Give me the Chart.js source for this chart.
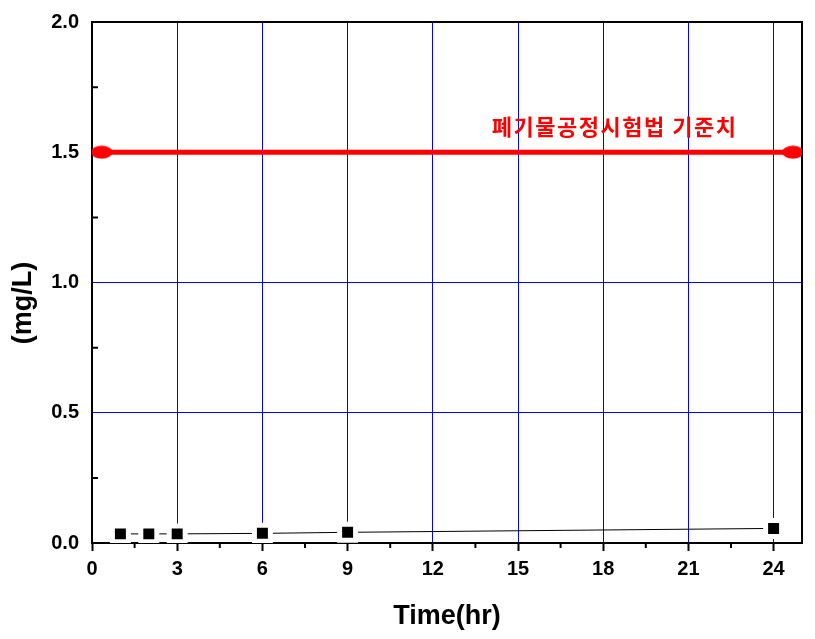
<!DOCTYPE html>
<html>
<head>
<meta charset="utf-8">
<script src="https://cdn.jsdelivr.net/npm/chart.js@4"></script>
<style>
  body { margin: 0; background: #fff; }
</style>
</head>
<body>
<canvas id="chart" width="815" height="639"></canvas>
<script>
// Sample times and measured concentration
const times = [1, 2, 3, 6, 9, 24];
const concentration = [0.035, 0.035, 0.035, 0.037, 0.041, 0.056];

// Regulatory limit line (ends of the red bar)
const limitX = [0.34, 24.68];
const limitY = [1.5, 1.5];
const limitLabel = "폐기물공정시험법 기준치";

// Axis ticks
const xTicks = [0, 3, 6, 9, 12, 15, 18, 21, 24];
const yTicks = [0, 0.5, 1.0, 1.5, 2.0];
const xMinor = [1.5, 4.5, 7.5, 10.5, 13.5, 16.5, 19.5, 22.5];
const yMinor = [0.25, 0.75, 1.25, 1.75];

const xTitle = "Time(hr)";
const yTitle = "(mg/L)";

const tickFont = { family: "Liberation Sans", size: 20, weight: "bold" };
const blue = "#0000ff";

// red ellipse marker for the limit line ends
const ellipse = document.createElement("canvas");
ellipse.width = 22;
ellipse.height = 14;
const ec = ellipse.getContext("2d");
ec.fillStyle = "#ff0000";
ec.beginPath();
ec.ellipse(11, 7, 11, 6.5, 0, 0, Math.PI * 2);
ec.fill();

const framePlugin = {
  id: "frame",
  beforeDatasetsDraw(chart) {
    const { ctx, chartArea: a, scales } = chart;
    ctx.save();
    ctx.strokeStyle = "#000";
    ctx.lineWidth = 2;
    ctx.strokeRect(a.left, a.top, a.right - a.left, a.bottom - a.top);
    // minor ticks
    ctx.beginPath();
    xMinor.forEach((v) => {
      const px = scales.x.getPixelForValue(v);
      ctx.moveTo(px, a.bottom);
      ctx.lineTo(px, a.bottom + 5);
    });
    yMinor.forEach((v) => {
      const py = scales.y.getPixelForValue(v);
      ctx.moveTo(a.left, py);
      ctx.lineTo(a.left + 6, py);
    });
    ctx.stroke();

    // axis titles
    ctx.fillStyle = "#000";
    ctx.font = "bold 27px 'Liberation Sans'";
    ctx.textAlign = "center";
    ctx.textBaseline = "middle";
    ctx.fillText(xTitle, (a.left + a.right) / 2, 617);
    ctx.translate(24, 303);
    ctx.rotate(-Math.PI / 2);
    ctx.fillText(yTitle, 0, 0);
    ctx.restore();
  },
  afterDatasetsDraw(chart) {
    const { ctx, scales } = chart;
    ctx.save();
    ctx.fillStyle = "#ff0000";
    ctx.font = "bold 22px 'Noto Sans CJK KR'";
    ctx.letterSpacing = "1.5px";
    ctx.textAlign = "center";
    ctx.textBaseline = "middle";
    ctx.fillText(limitLabel, scales.x.getPixelForValue(18.4), scales.y.getPixelForValue(1.6));
    ctx.restore();
  },
};

new Chart(document.getElementById("chart"), {
  type: "line",
  data: {
    datasets: [
      {
        data: limitX.map((x, i) => ({ x: x, y: limitY[i] })),
        borderColor: "#ff0000",
        borderWidth: 5,
        pointStyle: ellipse,
        pointRadius: 10,
      },
      {
        data: times.map((t, i) => ({ x: t, y: concentration[i] })),
        borderColor: "#000",
        borderWidth: 1,
        pointStyle: "rect",
        pointRadius: 11.3,
        pointBackgroundColor: "#000",
        pointBorderColor: "#fff",
        pointBorderWidth: 5,
      },
    ],
  },
  options: {
    responsive: false,
    animation: false,
    layout: { autoPadding: false, padding: { top: 22, right: 13, left: 0, bottom: 0 } },
    plugins: { legend: { display: false }, tooltip: { enabled: false } },
    scales: {
      x: {
        type: "linear",
        min: 0,
        max: 25,
        afterFit: (s) => { s.height = 96; s.paddingLeft = 0; s.paddingRight = 0; },
        afterBuildTicks: (s) => { s.ticks = xTicks.map((v) => ({ value: v })); },
        grid: {
          color: (c) => (c.tick && c.tick.value === 0 ? "rgba(0,0,0,0)" : blue),
          lineWidth: 1,
          tickColor: "#000",
          tickLength: 8,
          tickWidth: 2,
        },
        border: { display: false },
        ticks: { color: "#000", font: tickFont, padding: 6, maxRotation: 0 },
      },
      y: {
        min: 0,
        max: 2,
        afterFit: (s) => { s.width = 92; s.paddingTop = 0; s.paddingBottom = 0; },
        afterBuildTicks: (s) => { s.ticks = yTicks.map((v) => ({ value: v })); },
        grid: {
          color: (c) => (c.tick && (c.tick.value === 0 || c.tick.value === 2) ? "rgba(0,0,0,0)" : blue),
          lineWidth: 1,
          drawTicks: false,
        },
        border: { display: false },
        ticks: {
          color: "#000",
          font: tickFont,
          padding: 13,
          callback: (v) => Number(v).toFixed(1),
        },
      },
    },
  },
  plugins: [framePlugin],
});
</script>
</body>
</html>
